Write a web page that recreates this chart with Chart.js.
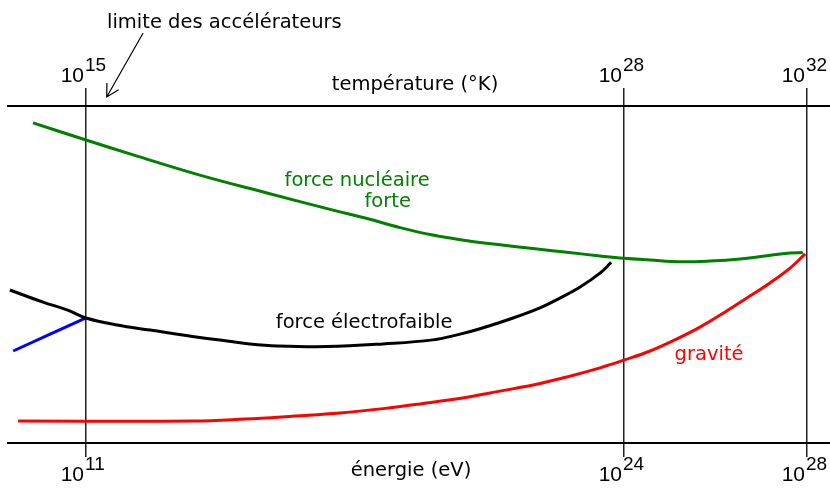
<!DOCTYPE html>
<html>
<head>
<meta charset="utf-8">
<script src="https://cdn.jsdelivr.net/npm/chart.js@4.4.1/dist/chart.umd.min.js"></script>
<style>
  html, body { margin: 0; padding: 0; background: #fff; }
  canvas { display: block; }
</style>
</head>
<body>
<canvas id="forcesChart" width="830" height="489"></canvas>
<script>
// tick exponents: energy (eV) on the bottom, temperature (K) on top
var energyTicks = [11, 24, 28];
var temperatureTicks = [15, 28, 32];

// coupling curves, x = log10(energy in eV), y = relative strength (0..100)
var strongE = [9.72, 11.0, 12.14, 13.75, 15.37, 16.97, 17.79, 18.59, 19.38, 20.21, 21.0, 21.8, 22.62, 23.42, 24.0, 24.57, 25.22, 25.88, 26.54, 27.08, 27.63, 27.91];
var strongV = [95.0, 89.9, 85.5, 79.5, 74.2, 69.1, 66.6, 63.9, 61.7, 60.0, 58.8, 57.7, 56.6, 55.5, 54.8, 54.3, 53.8, 54.0, 54.6, 55.5, 56.4, 56.5];

var weakE = [9.16, 9.96, 10.54, 11.0, 11.75, 12.55, 13.75, 14.41, 14.96, 15.62, 16.82, 18.18, 19.38, 20.04, 20.52, 21.25, 21.97, 22.45, 22.94, 23.42, 23.69];
var weakV = [45.4, 41.8, 39.5, 37.1, 35.0, 33.5, 31.3, 30.3, 29.4, 28.8, 28.6, 29.4, 30.6, 32.3, 33.9, 36.8, 40.1, 43.0, 46.3, 50.4, 53.6];

var emE = [9.24, 11.0];
var emV = [27.3, 37.1];

var gravE = [9.36, 13.59, 14.84, 16.05, 17.14, 18.18, 19.07, 20.21, 21.0, 21.8, 22.62, 23.42, 24.0, 24.57, 25.11, 25.66, 26.21, 26.75, 27.19, 27.63, 27.96];
var gravV = [6.5, 6.5, 7.1, 8.0, 8.9, 10.2, 11.6, 13.6, 15.4, 17.2, 19.6, 22.3, 24.6, 27.3, 30.6, 34.4, 38.9, 43.6, 47.5, 51.9, 56.1];

function points(xs, ys) {
  return xs.map(function (x, i) { return { x: x, y: ys[i] }; });
}

// the drawing is schematic: the three marked decades are not evenly spaced,
// so the energy axis is piecewise linear between them
class SchematicScale extends Chart.LinearScale {
  _toDecimal(v) {
    var ks = this.options.knots, ds = this.options.knotDecimals;
    var i = 1;
    while (i < ks.length - 1 && v > ks[i]) i++;
    return ds[i - 1] + (v - ks[i - 1]) * (ds[i] - ds[i - 1]) / (ks[i] - ks[i - 1]);
  }
  getPixelForValue(v) {
    return this.getPixelForDecimal(this._toDecimal(v));
  }
  getValueForPixel(p) {
    var ks = this.options.knots, ds = this.options.knotDecimals;
    var d = this.getDecimalForPixel(p);
    var i = 1;
    while (i < ds.length - 1 && d > ds[i]) i++;
    return ks[i - 1] + (d - ds[i - 1]) * (ks[i] - ks[i - 1]) / (ds[i] - ds[i - 1]);
  }
}
SchematicScale.id = 'schematic';
SchematicScale.defaults = Chart.LinearScale.defaults;
Chart.register(SchematicScale);

var textFont = '19.5px "DejaVu Sans"';

var curveLabels = [
  { text: 'force nucléaire', e: 17.55, v: 76.3, color: '#008000' },
  { text: 'forte', e: 18.29, v: 70.0, color: '#008000' },
  { text: 'force électrofaible', e: 17.72, v: 34.1, color: '#000000' },
  { text: 'gravité', e: 25.86, v: 24.6, color: '#ff0000' }
];

function drawPower(ctx, px, baseline, exponent) {
  ctx.font = '21px "Liberation Sans"';
  ctx.textAlign = 'right';
  ctx.fillText('10', px - 2, baseline);
  ctx.font = '19px "Liberation Sans"';
  ctx.textAlign = 'left';
  ctx.fillText(String(exponent), px - 1, baseline - 11);
}

var labelsPlugin = {
  id: 'schemaLabels',
  afterDraw: function (chart) {
    var ctx = chart.ctx;
    var xs = chart.scales.x;
    var ys = chart.scales.y;
    var area = chart.chartArea;
    ctx.save();
    ctx.fillStyle = '#000';
    ctx.textBaseline = 'alphabetic';

    // decade labels
    energyTicks.forEach(function (e, i) {
      var px = xs.getPixelForValue(e);
      drawPower(ctx, px, area.bottom + 38, energyTicks[i]);
      drawPower(ctx, px, area.top - 24, temperatureTicks[i]);
    });

    // axis names
    ctx.font = textFont;
    ctx.textAlign = 'center';
    ctx.fillText('température (°K)', 415, area.top - 16);
    ctx.fillText('énergie (eV)', 411, area.bottom + 33);

    // accelerator limit note with its arrow
    ctx.textAlign = 'left';
    ctx.fillText('limite des accélérateurs', 107, 28);
    var tipX = xs.getPixelForValue(11.5), tipY = area.top - 9;
    var fromX = xs.getPixelForValue(12.38), fromY = 33;
    var ang = Math.atan2(fromY - tipY, fromX - tipX);
    ctx.strokeStyle = '#000';
    ctx.lineWidth = 1.2;
    ctx.beginPath();
    ctx.moveTo(fromX, fromY);
    ctx.lineTo(tipX, tipY);
    ctx.moveTo(tipX + 14 * Math.cos(ang - 0.5), tipY + 14 * Math.sin(ang - 0.5));
    ctx.lineTo(tipX, tipY);
    ctx.lineTo(tipX + 14 * Math.cos(ang + 0.5), tipY + 14 * Math.sin(ang + 0.5));
    ctx.stroke();

    // curve names
    ctx.textAlign = 'center';
    curveLabels.forEach(function (l) {
      ctx.fillStyle = l.color;
      ctx.fillText(l.text, xs.getPixelForValue(l.e), ys.getPixelForValue(l.v));
    });
    ctx.restore();
  }
};

var axisShape = {
  type: 'schematic',
  min: 9.1,
  max: 28.5,
  knots: [11, 24, 28],
  knotDecimals: [0.0949, 0.7494, 0.972],
  afterBuildTicks: function (scale) {
    scale.ticks = energyTicks.map(function (v) { return { value: v }; });
  },
  ticks: { display: false },
  border: { display: true, color: '#000', width: 2 }
};

var forcesChart = new Chart(document.getElementById('forcesChart'), {
  type: 'line',
  data: {
    datasets: [
      { label: 'force nucléaire forte', data: points(strongE, strongV), borderColor: '#008000' },
      { label: 'force électrofaible', data: points(weakE, weakV), borderColor: '#000000' },
      { label: 'électromagnétisme', data: points(emE, emV), borderColor: '#0000ff' },
      { label: 'gravité', data: points(gravE, gravV), borderColor: '#ff0000' }
    ]
  },
  options: {
    responsive: false,
    animation: false,
    devicePixelRatio: 1,
    events: [],
    layout: { padding: { left: 8, right: 0, top: 0, bottom: 0 } },
    elements: {
      line: { borderWidth: 3, fill: false, tension: 0.4 },
      point: { radius: 0 }
    },
    plugins: { legend: { display: false }, tooltip: { enabled: false } },
    scales: {
      x: Object.assign({}, axisShape, {
        position: 'bottom',
        grid: { color: '#222', lineWidth: 1.5, drawOnChartArea: true, tickLength: 14 },
        afterFit: function (s) { s.height = 46; }
      }),
      x2: Object.assign({}, axisShape, {
        position: 'top',
        grid: { color: '#222', lineWidth: 1.5, drawOnChartArea: false, tickLength: 18 },
        afterFit: function (s) { s.height = 106; }
      }),
      y: { type: 'linear', min: 0, max: 100, display: false }
    }
  },
  plugins: [labelsPlugin]
});
</script>
</body>
</html>
